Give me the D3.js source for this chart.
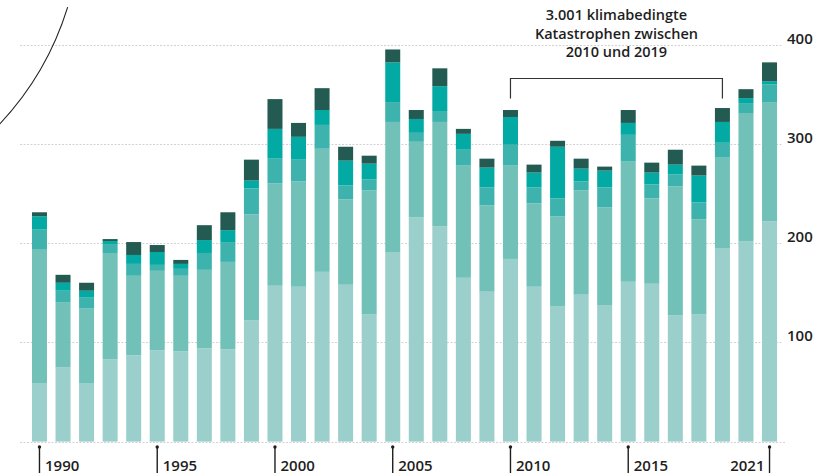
<!DOCTYPE html>
<html>
<head>
<meta charset="utf-8">
<script src="https://cdn.jsdelivr.net/npm/d3@7"></script>
<style>
  html, body { margin: 0; padding: 0; background: #fff; }
  svg { display: block; font-family: "Open Sans", "Noto Sans", sans-serif; }
</style>
</head>
<body>
<svg id="chart" width="830" height="473"></svg>
<script>
// Jahre
const years = d3.range(1990, 2022);

// Ereignisse je Jahr, von unten nach oben gestapelt
const tier1 = [59, 75, 59, 83, 87, 92, 91, 94, 93, 122, 157, 156, 171, 158, 128, 191, 226, 217, 165, 151, 184, 156, 136, 148, 137, 161, 159, 127, 128, 195, 202, 222];
const tier2 = [135, 65, 75, 107, 80, 80, 76, 79, 88, 107, 103, 106, 124, 86, 125, 131, 76, 105, 113, 87, 94, 84, 91, 105, 99, 121, 86, 130, 96, 91, 129, 120];
const tier3 = [20, 12, 11, 9, 12, 6, 7, 17, 20, 26, 25, 22, 24, 14, 11, 20, 9, 11, 16, 18, 21, 16, 18, 9, 20, 27, 14, 12, 17, 15, 10, 18];
const tier4 = [13, 8, 7, 3, 9, 13, 5, 13, 12, 8, 30, 23, 15, 25, 16, 40, 14, 25, 16, 20, 28, 15, 52, 13, 17, 12, 12, 10, 27, 21, 5, 3];
const tier5 = [4, 8, 8, 2, 13, 7, 4, 15, 18, 21, 30, 14, 22, 14, 8, 13, 9, 18, 5, 9, 7, 8, 6, 10, 4, 13, 10, 15, 10, 14, 9, 19];

// Achsenbeschriftungen
const yTicks = [100, 200, 300, 400];
const gridValues = [0, 100, 200, 300, 400];
const yearLabels = [1990, 1995, 2000, 2005, 2010, 2015, 2021];

// Klammer-Annotation
const bracketFrom = 2010, bracketTo = 2019;
const noteLines = ["3.001 klimabedingte", "Katastrophen zwischen", "2010 und 2019"];

const keys = ["tier1", "tier2", "tier3", "tier4", "tier5"];
const colors = ["#9acfcb", "#71c1b8", "#3eb3ad", "#03a9a3", "#235a51"];

const rows = years.map((y, i) => ({
  year: y, tier1: tier1[i], tier2: tier2[i], tier3: tier3[i], tier4: tier4[i], tier5: tier5[i]
}));

const svg = d3.select("#chart");

const x = d3.scaleBand()
  .domain(years)
  .range([27.7, 781.3])
  .paddingInner(0.363)
  .paddingOuter(0.1815);

const y = d3.scaleLinear().domain([0, 400]).range([441.6, 44.5]);

// Gitterlinien (gepunktet)
svg.append("g")
  .selectAll("line")
  .data(gridValues)
  .join("line")
  .attr("x1", 20).attr("x2", d => d === 0 ? 786 : 783)
  .attr("y1", d => Math.round(y(d)) + 0.5).attr("y2", d => Math.round(y(d)) + 0.5)
  .attr("stroke", "#d2d2d2")
  .attr("stroke-width", 1)
  .attr("stroke-dasharray", "2,1.5");

// Gestapelte Balken
const stacked = d3.stack().keys(keys)(rows);
const color = d3.scaleOrdinal().domain(keys).range(colors);

svg.append("g")
  .selectAll("g")
  .data(stacked)
  .join("g")
  .attr("fill", d => color(d.key))
  .selectAll("rect")
  .data(d => d)
  .join("rect")
  .attr("x", d => x(d.data.year))
  .attr("width", x.bandwidth())
  .attr("y", d => y(d[1]))
  .attr("height", d => y(d[0]) - y(d[1]));

// Y-Beschriftung rechts
svg.append("g")
  .selectAll("text")
  .data(yTicks)
  .join("text")
  .attr("x", 787)
  .attr("y", d => y(d) - 1)
  .attr("font-size", 15)
  .attr("font-weight", 600)
  .attr("fill", "#1e1e1e")
  .text(d => d);

// Jahresmarken mit Punkt
const tickG = svg.append("g")
  .selectAll("g")
  .data(yearLabels)
  .join("g")
  .attr("transform", d => `translate(${x(d) + x.bandwidth() / 2},0)`);

tickG.append("line")
  .attr("y1", 447).attr("y2", 473)
  .attr("stroke", "#1e1e1e").attr("stroke-width", 1.4);

tickG.append("circle")
  .attr("cy", 447).attr("r", 1.7)
  .attr("fill", "#1e1e1e");

tickG.append("text")
  .attr("x", d => d === 2021 ? -5 : 5.5)
  .attr("y", 470.5)
  .attr("text-anchor", d => d === 2021 ? "end" : "start")
  .attr("font-size", 15)
  .attr("font-weight", 600)
  .attr("fill", "#1e1e1e")
  .text(d => d);

// Klammer über 2010–2019
const bx0 = x(bracketFrom) + x.bandwidth() / 2;
const bx1 = x(bracketTo) + x.bandwidth() / 2;
const bTop = 78.5, bBottom = 98.5;
svg.append("path")
  .attr("d", `M${bx0},${bBottom}V${bTop}H${bx1}V${bBottom}`)
  .attr("fill", "none")
  .attr("stroke", "#333")
  .attr("stroke-width", 1.2);

svg.append("text")
  .attr("x", (bx0 + bx1) / 2)
  .attr("y", 20)
  .attr("text-anchor", "middle")
  .attr("font-size", 14.5)
  .attr("font-weight", 600)
  .attr("fill", "#1e1e1e")
  .selectAll("tspan")
  .data(noteLines)
  .join("tspan")
  .attr("x", (bx0 + bx1) / 2)
  .attr("dy", (d, i) => i === 0 ? 0 : 18.7)
  .text(d => d);

// Bogen oben links
const arcPath = d3.path();
arcPath.arc(-219.4, -81.6, 300.5, 0.30, 0.80, false);
svg.append("path")
  .attr("d", arcPath.toString())
  .attr("fill", "none")
  .attr("stroke", "#222")
  .attr("stroke-width", 1.1);
</script>
</body>
</html>
